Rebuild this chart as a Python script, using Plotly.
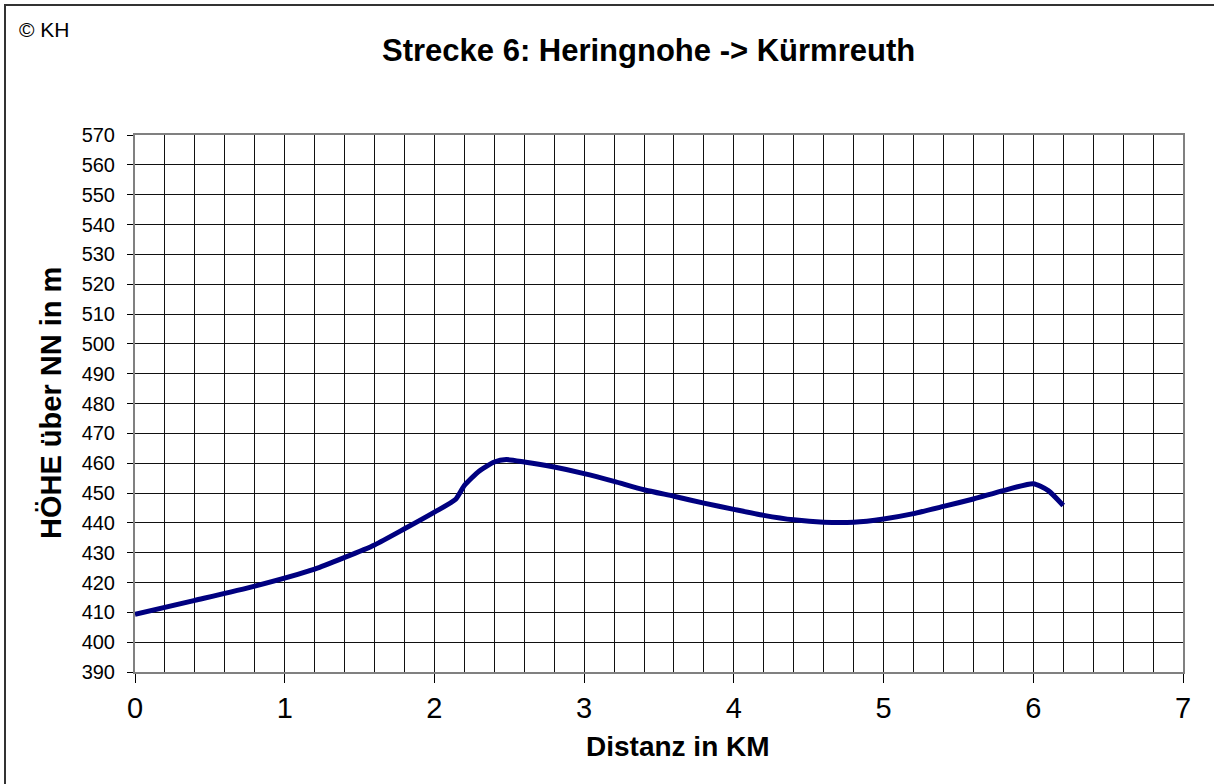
import plotly.graph_objects as go

distance_km = [0, 0.4, 0.8, 1.2, 1.4, 1.6, 1.8, 2.0, 2.14, 2.2, 2.3, 2.4, 2.48, 2.6, 2.8,
               3.0, 3.2, 3.4, 3.6, 3.8, 4.0, 4.2, 4.4, 4.6, 4.8, 5.0, 5.2, 5.4, 5.6,
               5.8, 6.0, 6.1, 6.2]
hoehe_m = [409.3, 414, 418.8, 424.5, 428.4, 432.6, 438, 443.6, 447.8, 452.5, 457.4, 460.4,
           461.2, 460.4, 458.7, 456.5, 453.9, 451.1, 448.9, 446.6, 444.5, 442.5, 441,
           440.2, 440.2, 441.3, 443.1, 445.5, 448, 450.8, 453.1, 450.8, 445.8]

W, H = 1214, 784
L, R, T, B = 135, 1183, 135, 672

def px(x):
    return (x - L) / (R - L)

def py(y):
    return (B - y) / (B - T)

fig = go.Figure()
fig.add_trace(go.Scatter(
    x=distance_km, y=hoehe_m, mode="lines",
    line=dict(color="#000080", width=5, shape="spline", smoothing=0.6),
    showlegend=False, hoverinfo="skip"))

font = "Liberation Sans, Arial, sans-serif"
fig.update_layout(
    width=W, height=H,
    margin=dict(l=L, r=W - R, t=T, b=H - B),
    paper_bgcolor="white", plot_bgcolor="white",
    font=dict(family=font, color="black"),
    xaxis=dict(range=[0, 7], dtick=1, tick0=0, showgrid=True, gridcolor="#111111", gridwidth=1,
               minor=dict(dtick=0.2, showgrid=True, gridcolor="#111111", gridwidth=1),
               ticks="outside", ticklen=9, tickcolor="black", tickwidth=1,
               ticklabelstandoff=0,
               tickfont=dict(size=29, family=font), showline=True, linecolor="#808080",
               linewidth=2, mirror=True, zeroline=False),
    yaxis=dict(range=[390, 570], dtick=10, tick0=390, showgrid=True, gridcolor="#111111",
               gridwidth=1, ticks="outside", ticklen=6, tickcolor="black", tickwidth=1,
               ticklabelstandoff=8,
               tickfont=dict(size=20, family=font), showline=True, linecolor="#808080",
               linewidth=2, mirror=True, zeroline=False),
    shapes=[dict(type="rect", xref="paper", yref="paper",
                 x0=px(5), x1=px(1222), y0=py(792), y1=py(5),
                 line=dict(color="#333333", width=2), fillcolor="rgba(0,0,0,0)", layer="above")],
    annotations=[
        dict(text="<b>Strecke 6: Heringnohe -> Kürmreuth</b>", xref="paper", yref="paper",
             x=px(648), y=py(50), showarrow=False, font=dict(size=31, family=font),
             xanchor="center", yanchor="middle"),
        dict(text="© KH", xref="paper", yref="paper", x=px(17), y=py(29), showarrow=False,
             font=dict(size=21, family=font), xanchor="left", yanchor="middle"),
        dict(text="<b>Distanz in KM</b>", xref="paper", yref="paper", x=px(678), y=py(746),
             showarrow=False, font=dict(size=28, family=font), xanchor="center", yanchor="middle"),
        dict(text="<b>HÖHE über NN in m</b>", xref="paper", yref="paper", x=px(51), y=py(403),
             showarrow=False, font=dict(size=29, family=font), textangle=-90,
             xanchor="center", yanchor="middle"),
    ],
)
fig.write_html("out.html", post_script="document.body.style.margin='0';",
               config={"displayModeBar": False})
